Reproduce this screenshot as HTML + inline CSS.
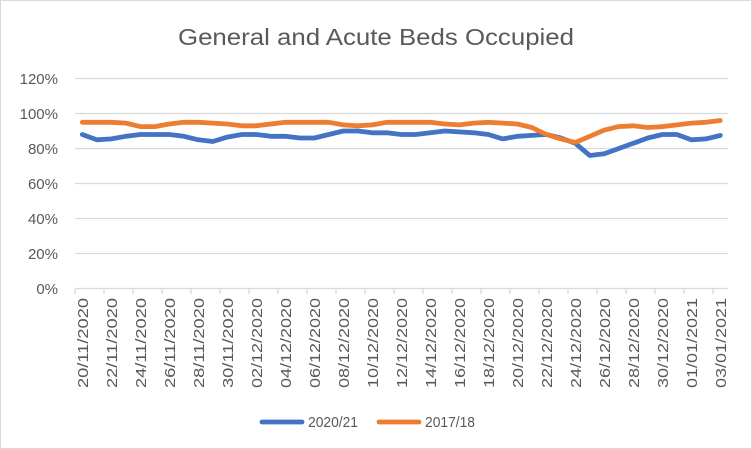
<!DOCTYPE html>
<html><head><meta charset="utf-8"><style>
html,body{margin:0;padding:0;background:#fff;}
svg{display:block;font-family:"Liberation Sans",sans-serif;}
</style></head><body>
<svg width="752" height="449" viewBox="0 0 752 449" xmlns="http://www.w3.org/2000/svg">
<rect x="0.5" y="0.5" width="751" height="448" fill="#fff" stroke="#d9d9d9"/>
<text x="376" y="45" text-anchor="middle" font-size="23" fill="#595959" textLength="396" lengthAdjust="spacingAndGlyphs">General and Acute Beds Occupied</text>
<g stroke="#d9d9d9" stroke-width="1.3">
<line x1="75" x2="728" y1="78.5" y2="78.5"/>
<line x1="75" x2="728" y1="113.5" y2="113.5"/>
<line x1="75" x2="728" y1="148.5" y2="148.5"/>
<line x1="75" x2="728" y1="183.5" y2="183.5"/>
<line x1="75" x2="728" y1="218.5" y2="218.5"/>
<line x1="75" x2="728" y1="253.5" y2="253.5"/>
<line x1="75" x2="728" y1="288.5" y2="288.5"/>
</g>
<g font-size="15" fill="#595959" text-anchor="end">
<text x="58" y="84">120%</text>
<text x="58" y="119">100%</text>
<text x="58" y="154">80%</text>
<text x="58" y="189">60%</text>
<text x="58" y="224">40%</text>
<text x="58" y="259">20%</text>
<text x="58" y="294">0%</text>
</g>
<g id="ticks" stroke="#d9d9d9" stroke-width="1.3"></g>
<g id="labels" font-size="15" fill="#595959"></g>
<polyline id="blue" fill="none" stroke="#4472c4" stroke-width="4.8" stroke-linejoin="round" stroke-linecap="round"/>
<polyline id="orange" fill="none" stroke="#ed7d31" stroke-width="4.8" stroke-linejoin="round" stroke-linecap="round"/>
<line x1="262" x2="302" y1="422" y2="422" stroke="#4472c4" stroke-width="4.8" stroke-linecap="round"/>
<text x="308" y="427" font-size="15" fill="#595959" textLength="50" lengthAdjust="spacingAndGlyphs">2020/21</text>
<line x1="379" x2="419" y1="422" y2="422" stroke="#ed7d31" stroke-width="4.8" stroke-linecap="round"/>
<text x="425" y="427" font-size="15" fill="#595959" textLength="50" lengthAdjust="spacingAndGlyphs">2017/18</text>
</svg>
<script>
var blue=[88,85,85.5,87,88,88,88,87,85,84,86.5,88,88,87,87,86,86,88,90,90,89,89,88,88,89,90,89.5,89,88,85.5,87,87.5,88,86,83,76,77,80,83,86,88,88,85,85.5,87.5];
var orange=[95,95,95,94.5,92.5,92.5,94,95,95,94.5,94,93,93,94,95,95,95,95,93.5,93,93.5,95,95,95,95,94,93.5,94.5,95,94.5,94,92,88,85.5,83.5,87,90.5,92.5,93,92,92.5,93.5,94.5,95,96];
function pts(a){return a.map(function(v,i){return (82.25+14.5*i).toFixed(1)+","+(288.5-v*1.75).toFixed(1)}).join(" ");}
document.getElementById("blue").setAttribute("points",pts(blue));
document.getElementById("orange").setAttribute("points",pts(orange));
var ns="http://www.w3.org/2000/svg",t=document.getElementById("ticks"),l=document.getElementById("labels");
for(var k=0;k<=22;k++){var x=75+29*k;if(x>728)x=727.5;var ln=document.createElementNS(ns,"line");ln.setAttribute("x1",x);ln.setAttribute("x2",x);ln.setAttribute("y1",288.5);ln.setAttribute("y2",294);t.appendChild(ln);}
var start=new Date(2020,10,20);
for(var i=0;i<45;i+=2){var d=new Date(start.getTime()+i*86400000+3600000);
var s=("0"+d.getDate()).slice(-2)+"/"+("0"+(d.getMonth()+1)).slice(-2)+"/"+d.getFullYear();
var x=82.25+14.5*i+5.5;var tx=document.createElementNS(ns,"text");
tx.setAttribute("transform","translate("+x+",298) rotate(-90)");tx.setAttribute("text-anchor","end");tx.setAttribute("textLength","90");tx.setAttribute("lengthAdjust","spacingAndGlyphs");tx.textContent=s;l.appendChild(tx);}
</script>
</body></html>
